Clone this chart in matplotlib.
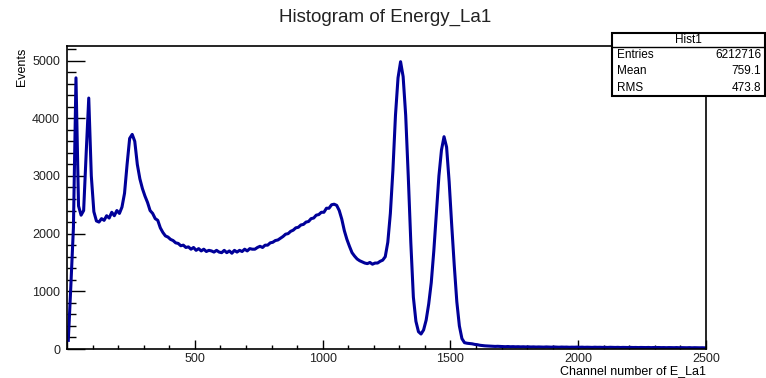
import numpy as np
import matplotlib
matplotlib.use("Agg")
import matplotlib.pyplot as plt
from matplotlib.ticker import MultipleLocator, FuncFormatter

plt.rcParams['font.family'] = ['Liberation Sans', 'DejaVu Sans']

# Histogram bins: 10 channels wide, 0..2500
bin_width = 10
edges = np.arange(0, 2500 + bin_width, bin_width)
centers = edges[:-1] + bin_width / 2

# Counts, per segment of channels
counts_0_100 = [150, 1100, 2100, 4700, 2480, 2320, 2400, 3400, 4350, 3000]
counts_100_300 = [2380, 2220, 2200, 2260, 2230, 2310, 2270, 2370, 2310, 2400,
                  2350, 2460, 2700, 3200, 3650, 3720, 3600, 3200, 2950, 2780]
counts_300_600 = [2650, 2540, 2400, 2350, 2260, 2230, 2100, 2020, 1960, 1940,
                  1900, 1880, 1840, 1830, 1790, 1800, 1760, 1770, 1730, 1760,
                  1710, 1740, 1700, 1730, 1690, 1710, 1700, 1680, 1710, 1680]
counts_600_900 = [1670, 1710, 1670, 1700, 1660, 1710, 1680, 1710, 1690, 1730,
                  1700, 1740, 1730, 1730, 1760, 1780, 1760, 1800, 1800, 1840,
                  1850, 1880, 1890, 1920, 1950, 1990, 2000, 2040, 2060, 2100]
counts_900_1200 = [2110, 2150, 2160, 2200, 2210, 2260, 2270, 2320, 2330, 2370,
                   2370, 2440, 2440, 2500, 2510, 2490, 2400, 2250, 2050, 1900,
                   1780, 1670, 1610, 1560, 1530, 1510, 1490, 1480, 1500, 1470]
counts_1200_1600 = [1490, 1490, 1520, 1540, 1600, 1850, 2350, 3100, 4050, 4700,
                    4980, 4720, 4050, 3000, 1850, 900, 480, 300, 260, 330,
                    500, 780, 1150, 1700, 2350, 3000, 3450, 3680, 3500, 2900,
                    2150, 1450, 820, 400, 180, 110, 100, 95, 90, 80]
counts_1600_2500 = [75, 65, 60, 55, 52, 50, 48, 45, 47, 44,
                    42, 40, 43, 39, 41, 38, 40, 37, 39, 36,
                    38, 35, 37, 34, 36, 35, 33, 36, 34, 32,
                    35, 33, 31, 34, 32, 33, 30, 32, 31, 33,
                    30, 32, 29, 31, 30, 28, 31, 29, 30, 28,
                    29, 27, 30, 28, 27, 29, 26, 28, 27, 26,
                    28, 26, 27, 25, 27, 26, 25, 27, 24, 26,
                    25, 26, 24, 25, 23, 25, 24, 23, 25, 22,
                    24, 23, 22, 24, 21, 23, 22, 21, 22, 20]

counts = np.concatenate([counts_0_100, counts_100_300, counts_300_600,
                         counts_600_900, counts_900_1200,
                         counts_1200_1600, counts_1600_2500])

stats_rows = [("Entries", "6212716"), ("Mean", "759.1"), ("RMS", "473.8")]

fig = plt.figure(figsize=(7.66, 3.78), dpi=100)
ax = fig.add_axes([0.0875, 0.0767, 0.8342, 0.8013])

ax.plot(centers, counts, color='#000099', linewidth=2.2)

ax.set_xlim(0, 2500)
ax.set_ylim(0, 5250)

# ROOT-like ticks: inside, bottom and left only
ax.xaxis.set_major_locator(MultipleLocator(500))
ax.xaxis.set_minor_locator(MultipleLocator(100))
ax.yaxis.set_major_locator(MultipleLocator(1000))
ax.yaxis.set_minor_locator(MultipleLocator(200))
ax.xaxis.set_major_formatter(FuncFormatter(lambda v, p: "" if v == 0 else "%d" % v))
ax.tick_params(axis='x', which='major', direction='in', length=6.5, width=1, labelsize=9, pad=3)
ax.tick_params(axis='x', which='minor', direction='in', length=3.2, width=1)
ax.tick_params(axis='y', which='major', direction='in', length=13, width=1, labelsize=9, pad=5)
ax.tick_params(axis='y', which='minor', direction='in', length=6.5, width=1)
ax.tick_params(labelcolor='#222222')
for s in ax.spines.values():
    s.set_linewidth(1.2)

fig.text(0.503, 0.955, "Histogram of Energy_La1", ha='center', va='center',
         fontsize=13.5, color='#222222')
fig.text(0.029, 0.875, "Events", rotation=90, ha='center', va='top', fontsize=9)
fig.text(0.922, 0.018, "Channel number of E_La1", ha='right', va='center', fontsize=9)

# Stats box
x0, x1 = 0.799, 0.9985
ytop, yhead, ybot = 0.9127, 0.8757, 0.746
box = plt.Rectangle((x0, ybot), x1 - x0, ytop - ybot, transform=fig.transFigure,
                    facecolor='white', edgecolor='black', linewidth=1.5, zorder=5)
fig.patches.append(box)
fig.add_artist(plt.Line2D([x0, x1], [yhead, yhead], transform=fig.transFigure,
                          color='black', linewidth=1, zorder=6))
fig.text((x0 + x1) / 2, (ytop + yhead) / 2, "Hist1", ha='center', va='center',
         fontsize=8.5, zorder=7)
row_h = (yhead - ybot) / 3
for i, (name, val) in enumerate(stats_rows):
    yc = yhead - row_h * (i + 0.5)
    fig.text(x0 + 0.007, yc, name, ha='left', va='center', fontsize=8.5, zorder=7)
    fig.text(x1 - 0.005, yc, val, ha='right', va='center', fontsize=8.5, zorder=7)

fig.savefig("out.png", dpi=100)
